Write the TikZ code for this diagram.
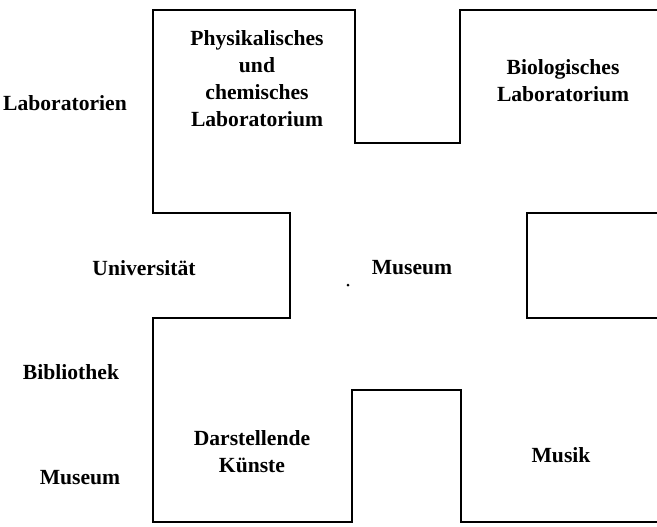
\documentclass[tikz,border=0pt]{standalone}
\usepackage{fontspec}
\setmainfont{Liberation Serif}
\begin{document}
\begin{tikzpicture}[x=0.5pt, y=-0.5pt, font=\bfseries\fontsize{10.8}{13.5}\selectfont]
        \tikzset{
            wall/.style={draw=black, line width=1pt, line join=miter},
            room/.style={align=center, inner sep=0pt},
            sidelabel/.style={inner sep=0pt}
        }

        \useasboundingbox (0,0) rectangle (657,526);

        \draw[wall] (657,10) -- (460,10) -- (460,143) -- (355,143) -- (355,10)
            -- (153,10) -- (153,213) -- (290,213) -- (290,318) -- (153,318)
            -- (153,522) -- (352,522) -- (352,390) -- (461,390) -- (461,522)
            -- (657,522);
        \draw[wall] (657,213) -- (527,213) -- (527,318) -- (657,318);
        \fill (348,285) circle (1.5);

        \node[room] (physchem) at (257,79) {Physikalisches\\und\\chemisches\\Laboratorium};
        \node[room] (biolab) at (563,81) {Biologisches\\Laboratorium};
        \node[room] (museum) at (412,268) {Museum};
        \node[room] (kuenste) at (252,452) {Darstellende\\Künste};
        \node[room] (musik) at (561,455) {Musik};

        \node[sidelabel] (labor) at (65,103) {Laboratorien};
        \node[sidelabel] (uni) at (144,268) {Universität};
        \node[sidelabel] (biblio) at (71,372) {Bibliothek};
        \node[sidelabel] (museumlinks) at (80,478) {Museum};
    \end{tikzpicture}
\end{document}
